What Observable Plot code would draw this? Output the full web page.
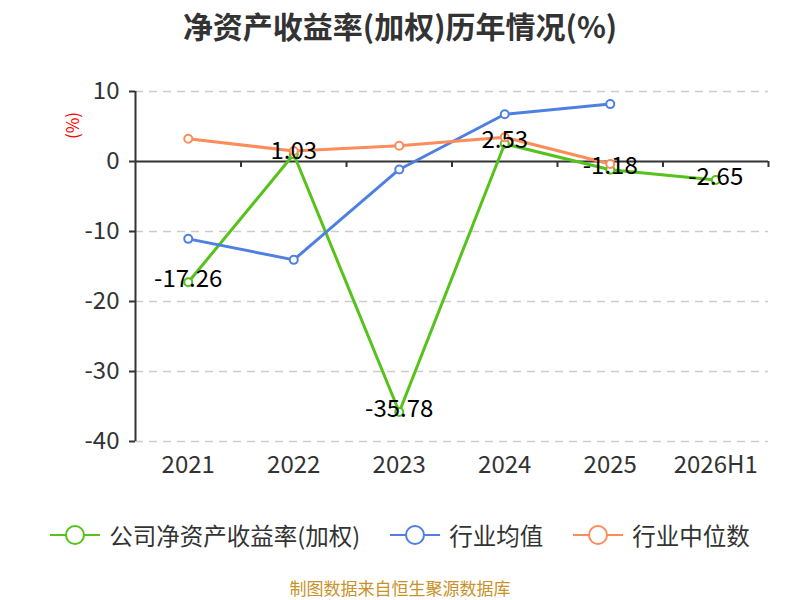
<!DOCTYPE html>
<html>
<head>
<meta charset="utf-8">
<script src="https://cdn.jsdelivr.net/npm/d3@7"></script>
<script src="https://cdn.jsdelivr.net/npm/@observablehq/plot@0.6"></script>
<style>
  html, body { margin: 0; padding: 0; background: #fff; }
  body { width: 800px; height: 600px; overflow: hidden; font-family: "Noto Sans CJK SC", "Noto Sans", sans-serif; }
  #title { height: 50px; line-height: 50px; text-align: center; font-size: 30px; font-weight: bold; color: #333; }
  #chart { height: 444px; }
  #chart svg { display: block; }
  #legend { height: 82px; display: flex; align-items: center; justify-content: center; font-size: 23.5px; color: #333; }
  .item { display: flex; align-items: center; margin: 0 15px; }
  .item svg { margin-right: 9px; display: block; }
  #caption { height: 24px; line-height: 24px; text-align: center; font-size: 17px; color: #c8922a; }
</style>
</head>
<body>
<div id="title">净资产收益率(加权)历年情况(%)</div>
<div id="chart"></div>
<div id="legend"></div>
<div id="caption">制图数据来自恒生聚源数据库</div>
<script>
const categories = ["2021", "2022", "2023", "2024", "2025", "2026H1"];
const companyROE = [-17.26, 1.03, -35.78, 2.53, -1.18, -2.65];
const industryMean = [-11.05, -14.05, -1.14, 6.75, 8.2, null];
const industryMedian = [3.25, 1.5, 2.25, 3.45, -0.35, null];
const yTicks = [10, 0, -10, -20, -30, -40];
const seriesNames = ["公司净资产收益率(加权)", "行业均值", "行业中位数"];
const seriesColors = ["#56c21b", "#4e80e2", "#fc8c5a"];

const toRows = (vals) => vals.map((v, i) => ({i, v})).filter(d => d.v !== null);
const rows = [toRows(companyROE), toRows(industryMean), toRows(industryMedian)];
const idx = d3.range(categories.length);
const boundaries = idx.map(i => i + 0.5);

const font = "Noto Sans CJK SC, Noto Sans, sans-serif";

const marks = [
  Plot.ruleY(yTicks.filter(t => t !== 0), {y: d => d, stroke: "#cccccc", strokeWidth: 1.5, strokeDasharray: "8,6"}),
  Plot.ruleY([0], {y: d => d, stroke: "#333", strokeWidth: 2}),
  Plot.ruleX([-0.5], {x: d => d, y1: -40, y2: 10, stroke: "#333", strokeWidth: 2}),
  Plot.ruleX(boundaries, {x: d => d, y1: 0, y2: -6 / 7, stroke: "#333", strokeWidth: 2}),
  Plot.axisY(yTicks, {tickSize: 6, tickPadding: 10, fontSize: 24, color: "#333", strokeWidth: 2, label: null, tickFormat: d => String(d)}),
  Plot.axisX(idx, {tickSize: 0, tickPadding: 14, fontSize: 24, color: "#333", tickFormat: i => categories[i], label: null})
];
rows.forEach((r, k) => {
  marks.push(Plot.line(r, {x: "i", y: "v", stroke: seriesColors[k], strokeWidth: 3}));
  marks.push(Plot.dot(r, {x: "i", y: "v", r: 4, fill: "#fff", stroke: seriesColors[k], strokeWidth: 2}));
});
marks.push(Plot.text(rows[0], {x: "i", y: "v", text: d => d.v.toFixed(2), dy: -3, fontSize: 24, fill: "#000", textAnchor: "middle", lineAnchor: "middle"}));
marks.push(Plot.text(["(%)"], {frameAnchor: "top-left", dx: -62, dy: 34, rotate: -90, fill: "red", fontSize: 17, textAnchor: "middle", lineAnchor: "middle"}));

const chart = Plot.plot({
  width: 800,
  height: 444,
  marginTop: 41,
  marginBottom: 53,
  marginLeft: 135,
  marginRight: 32,
  style: {fontFamily: font, background: "#fff", overflow: "visible"},
  x: {type: "linear", domain: [-0.5, categories.length - 0.5], axis: null},
  y: {domain: [-40, 10], axis: null},
  marks
});
document.getElementById("chart").appendChild(chart);

const legend = document.getElementById("legend");
seriesNames.forEach((name, k) => {
  const item = document.createElement("div");
  item.className = "item";
  item.innerHTML = `<svg width="50" height="24"><line x1="0" y1="12" x2="50" y2="12" stroke="${seriesColors[k]}" stroke-width="2"/><circle cx="25" cy="12" r="9" fill="#fff" stroke="${seriesColors[k]}" stroke-width="2"/></svg><span>${name}</span>`;
  legend.appendChild(item);
});
</script>
</body>
</html>
